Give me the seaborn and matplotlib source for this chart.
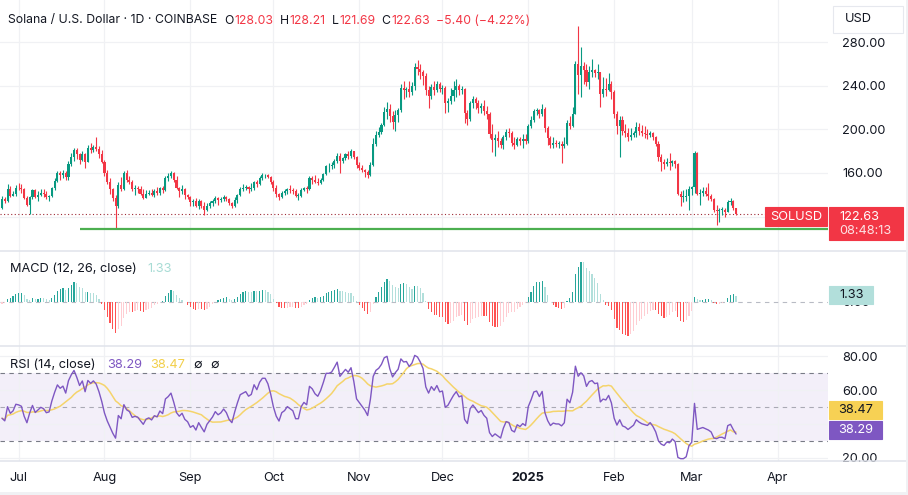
import seaborn as sns
import numpy as np
import pandas as pd
import matplotlib
matplotlib.use("Agg")
import matplotlib.pyplot as plt
from matplotlib.patches import Rectangle

# SOL/USD daily candles (Coinbase), 25 Jun 2024 .. 17 Mar 2025
start = "2024-06-25"
first_open = 128.0
close = [136.5, 134, 145, 139, 141, 146.5,
         146, 145, 137, 131, 138, 144, 138, 140, 142, 141, 138, 138.5, 146, 153, 160, 158, 160, 156, 168, 175, 181, 177, 172, 177, 170, 183, 181, 184, 182, 177, 170,
         160, 152, 145, 137, 130, 149, 145, 160, 154, 152, 145, 146, 145, 141, 137, 141, 142, 140, 143, 142, 146, 144, 155, 157, 160, 154, 146, 143, 145, 140, 138,
         133, 134, 130, 134, 130, 126, 130, 132, 134, 137, 135, 136, 138, 136, 132, 130, 135, 140, 145, 146, 147, 145, 146, 152, 150, 155, 158, 158, 156, 152,
         146, 141, 138, 142, 143, 145, 144, 143, 139, 139, 144, 146, 145, 155, 154, 152, 151, 154, 159, 166, 166, 167, 171, 176, 171, 174, 177, 176, 180, 175, 167,
         165, 163, 161, 158, 167, 187, 195, 198, 204, 216, 219, 212, 207, 213, 218, 238, 236, 237, 234, 240, 257, 256, 253, 249, 236, 231, 239, 236, 242, 237,
         238, 224, 226, 231, 236, 240, 236, 237, 215, 210, 224, 228, 224, 220, 222, 217, 214, 196, 190, 192, 189, 186, 193, 198, 197, 188, 186, 191, 189, 191, 189,
         203, 209, 217, 218, 214, 219, 201, 192, 186, 188, 187, 187, 185, 187, 206, 203, 214, 260, 250, 258, 255, 244, 253, 255, 252, 253, 233, 237, 236, 242, 234,
         214, 203, 209, 199, 197, 193, 195, 197, 202, 199, 197, 196, 195, 197, 193, 187, 175, 170, 168, 170, 169, 171, 168, 141, 138, 138, 139, 145,
         147, 178, 141, 142, 143, 141, 139, 136, 126, 125, 126, 126, 124, 133, 134, 128.03, 122.63]
high = [139, 138, 150, 148, 143, 149,
        151, 150, 146, 139, 139, 145, 145, 143, 145, 145, 143, 140, 147, 155, 162, 162, 163, 162, 171, 178, 183, 183, 178, 180, 178, 186, 188, 186, 193, 185, 181,
        172, 163, 155, 146, 140, 152, 156, 162, 163, 157, 154, 149, 148, 148, 145, 144, 144, 145, 145, 147, 147, 148, 157, 160, 162, 161, 157, 147, 149, 146, 141,
        139, 136, 137, 136, 135, 133, 132, 134, 136, 139, 138, 138, 140, 139, 137, 133, 138, 141, 147, 150, 149, 148, 151, 153, 154, 157, 160, 159, 159, 157,
        154, 149, 142, 143, 145, 146, 149, 146, 145, 142, 146, 147, 148, 157, 157, 158, 155, 155, 160, 167, 169, 170, 173, 178, 178, 175, 178, 180, 182, 180, 176,
        170, 167, 164, 163, 170, 192, 199, 202, 206, 221, 225, 223, 217, 218, 220, 242, 245, 239, 245, 244, 261, 264, 260, 255, 252, 240, 242, 245, 245, 244,
        241, 240, 229, 238, 245, 246, 242, 240, 238, 218, 226, 231, 230, 227, 224, 227, 222, 216, 205, 196, 199, 192, 195, 200, 201, 199, 193, 193, 193, 196, 196,
        205, 212, 219, 220, 219, 223, 221, 203, 194, 193, 190, 189, 189, 193, 209, 212, 221, 263, 295, 276, 262, 260, 258, 265, 256, 260, 253, 248, 247, 252, 245,
        236, 217, 212, 212, 205, 201, 201, 199, 207, 206, 204, 203, 200, 199, 198, 194, 189, 177, 173, 174, 178, 172, 172, 169, 143, 144, 145, 148,
        148, 180, 179, 145, 147, 147, 151, 141, 137, 131, 128, 129, 128, 135, 137, 135, 128.21]
low = [127, 132, 133, 138, 139, 139,
       144, 142, 136, 130, 122, 136, 137, 134, 139, 138, 136, 134, 138, 144, 152, 154, 155, 154, 154, 166, 171, 173, 168, 171, 165, 170, 178, 179, 180, 174, 169,
       157, 150, 141, 134, 109, 128, 143, 144, 152, 150, 143, 140, 142, 140, 136, 137, 140, 139, 138, 140, 140, 142, 143, 153, 155, 152, 145, 138, 141, 136, 136,
       130, 130, 129, 127, 128, 121, 125, 128, 130, 132, 131, 133, 134, 134, 131, 128, 129, 132, 139, 143, 144, 142, 143, 144, 147, 149, 154, 155, 155, 150,
       143, 138, 135, 137, 140, 141, 142, 141, 138, 135, 138, 143, 142, 144, 150, 151, 149, 150, 153, 158, 161, 164, 165, 169, 160, 169, 172, 173, 174, 173, 165,
       163, 161, 156, 155, 157, 166, 185, 193, 196, 203, 210, 207, 200, 199, 207, 216, 228, 230, 230, 232, 236, 250, 246, 241, 232, 220, 228, 232, 234, 234,
       233, 215, 216, 223, 226, 230, 232, 233, 206, 204, 208, 220, 219, 215, 215, 213, 210, 192, 179, 176, 184, 183, 182, 190, 193, 185, 182, 185, 186, 183, 187,
       188, 201, 207, 213, 211, 212, 198, 186, 183, 183, 184, 183, 169, 183, 186, 200, 202, 214, 233, 230, 242, 240, 237, 248, 248, 246, 221, 230, 231, 235, 228,
       211, 196, 175, 195, 193, 189, 190, 193, 193, 195, 194, 192, 191, 193, 190, 185, 171, 162, 164, 166, 163, 166, 165, 140, 130, 133, 134, 126,
       140, 142, 140, 131, 139, 139, 135, 134, 124, 112, 115, 121, 120, 124, 131, 126, 121.69]

month_days = ["2024-07-01", "2024-08-01", "2024-09-01", "2024-10-01", "2024-11-01",
              "2024-12-01", "2025-01-01", "2025-02-01", "2025-03-01", "2025-04-01"]
month_labels = ["Jul", "Aug", "Sep", "Oct", "Nov", "Dec", "2025", "Feb", "Mar", "Apr"]
price_ticks = [120, 160, 200, 240, 280]
rsi_ticks = [20, 40, 60, 80]
hidden_ticks = [120, 40]          # labels sit under the price tags
support_level = 108.5
support_from = "2024-07-23"

# values printed on the chart
title_text = "Solana / U.S. Dollar \u00b7 1D \u00b7 COINBASE"
ohlc_keys = ["O", "H", "L", "C"]
ohlc_text = ["128.03", "128.21", "121.69", "122.63"]
change_text = "\u22125.40 (\u22124.22%)"
macd_last = "1.33"
rsi_last, rsi_ma_last = "38.29", "38.47"
countdown = "08:48:13"

# indicator state carried in from before the visible window
ema12, ema26, sig = 137.0, 143.0, -5.0
avg_gain, avg_loss = 1.8, 3.2

UP, DOWN = "#089981", "#F23645"
TXT, GRID, SEP = "#131722", "#F0F1F4", "#E0E3EB"

sns.set_theme(style="white")
plt.rcParams["font.family"] = ["Inter", "DejaVu Sans"]

n = len(close)
idx = np.arange(n)
opens = np.array([first_open] + close[:-1])
closes = np.array(close)
highs = np.maximum(np.array(high), np.maximum(opens, closes))
lows = np.minimum(np.array(low), np.minimum(opens, closes))
t0 = pd.Timestamp(start)
month_pos = [(pd.Timestamp(d) - t0).days for d in month_days]

# MACD (12, 26, 9) and RSI (14) from the closes
hist, rsi, hist_cols = [], [], []
prev_close = first_open
prev_h = (ema12 - ema26) - sig
for c in close:
    ema12 += (c - ema12) * 2 / 13
    ema26 += (c - ema26) * 2 / 27
    m = ema12 - ema26
    sig += (m - sig) * 2 / 10
    h = m - sig
    if h >= 0:
        hist_cols.append("#26A69A" if h > prev_h else "#B2DFDB")
    else:
        hist_cols.append("#FFCDD2" if h > prev_h else "#FF5252")
    hist.append(h)
    prev_h = h
    d = c - prev_close
    avg_gain = (avg_gain * 13 + max(d, 0)) / 14
    avg_loss = (avg_loss * 13 + max(-d, 0)) / 14
    rsi.append(100 - 100 / (1 + avg_gain / avg_loss))
    prev_close = c
hist = np.array(hist)
rsi_df = pd.DataFrame({"i": idx, "rsi": rsi})
rsi_df["ma"] = rsi_df["rsi"].rolling(14, min_periods=1).mean()

W, H = 908, 495
RIGHT = 828
fig = plt.figure(figsize=(W / 100, H / 100), dpi=100)
fig.patch.set_facecolor("white")


def fx(x):
    return x / W


def fy(y):
    return 1 - y / H


def to_i(px):
    return (px - 2) / 2.77


def tick_text(v, fmt="{:.2f}"):
    return "" if v in hidden_ticks else fmt.format(v)


def pane(top, bottom):
    ax = fig.add_axes([0, fy(bottom), RIGHT / W, (bottom - top) / H])
    ax.set_facecolor("white")
    ax.set_xlim(to_i(0), to_i(RIGHT))
    for sp in ax.spines.values():
        sp.set_visible(False)
    ax.set_xticks(month_pos)
    ax.grid(True, color=GRID, lw=0.9)
    ax.set_axisbelow(True)
    ax.yaxis.tick_right()
    ax.tick_params(length=0, labelsize=9.2, labelcolor=TXT, pad=10)
    ax.tick_params(axis="x", labelbottom=False)
    return ax


# ---- price pane
ax_p = pane(0, 251)
ax_p.set_ylim(88.3, 319)
ax_p.set_yticks(price_ticks)
ax_p.set_yticklabels([tick_text(v) for v in price_ticks])
cols = np.where(closes >= opens, UP, DOWN)
ax_p.vlines(idx, lows, highs, colors=cols, lw=0.8, zorder=3)
body = np.maximum(np.abs(closes - opens), 0.5)
ax_p.bar(idx, body, bottom=np.minimum(opens, closes), width=0.75, color=cols, lw=0, zorder=4)
sup_i = (pd.Timestamp(support_from) - t0).days
ax_p.hlines(support_level, sup_i, to_i(RIGHT), colors="#4CAF50", lw=1.6, zorder=5)
ax_p.hlines(closes[-1], to_i(0), to_i(765), colors="#9E2A36", lw=0.8, linestyles=(0, (1, 2.2)), zorder=2)

# ---- MACD pane
ax_m = pane(251, 346)
ax_m.grid(False, axis="y")
u = max(hist.max() / 40, -hist.min() / 36)
ax_m.set_ylim(-44 * u, 51 * u)
ax_m.set_yticks([0])
ax_m.set_yticklabels(["0.00"])
ax_m.axhline(0, color="#B8BBC4", lw=0.8, ls=(0, (4, 4)), zorder=1)
ax_m.bar(idx, hist, width=0.42, color=hist_cols, lw=0, zorder=3)

# ---- RSI pane
ax_r = pane(346, 461)
ax_r.set_ylim(18.2, 86.0)
ax_r.set_yticks(rsi_ticks)
ax_r.set_yticklabels([tick_text(v) for v in rsi_ticks])
ax_r.axhspan(30, 70, color="#7E57C2", alpha=0.09, lw=0, zorder=0)
for lvl, a in [(70, 1), (50, 0.6), (30, 1)]:
    ax_r.axhline(lvl, color="#787B86", alpha=a, lw=0.8, ls=(0, (4, 4)), zorder=1)
sns.lineplot(data=rsi_df, x="i", y="ma", ax=ax_r, color="#F5D46B", lw=1.1, zorder=3)
sns.lineplot(data=rsi_df, x="i", y="rsi", ax=ax_r, color="#7E57C2", lw=1.0, zorder=4)
ax_r.set_xlabel("")
ax_r.set_ylabel("")
ax_r.set_xlim(to_i(0), to_i(RIGHT))
ax_r.tick_params(axis="x", labelbottom=True, pad=8)
ax_r.set_xticklabels(month_labels)
for lab in ax_r.get_xticklabels():
    if lab.get_text() == "2025":
        lab.set_fontweight("bold")

# ---- separators, frame and price tags
for y in (251, 346, 461):
    fig.add_artist(plt.Line2D([0, 1], [fy(y), fy(y)], color=SEP, lw=1.1, transform=fig.transFigure))
fig.add_artist(Rectangle((fx(829), fy(492)), 78 / W, 30 / H, transform=fig.transFigure,
                         fc="white", ec="none", zorder=4))
fig.add_artist(Rectangle((0, 0), 1, 3 / H, transform=fig.transFigure, fc="#F0F1F4", ec="none", zorder=4))
fig.add_artist(Rectangle((fx(906), 0), 2 / W, 1, transform=fig.transFigure, fc="#F0F1F4", ec="none", zorder=4))


def tag(x0, y0, x1, y1, fc, ec=None):
    fig.add_artist(Rectangle((fx(x0), fy(y1)), (x1 - x0) / W, (y1 - y0) / H,
                             transform=fig.transFigure, fc=fc, ec=ec or fc, lw=0.8, zorder=5))


def label(x, y, s, color=TXT, size=9.2, ha="left", **kw):
    return fig.text(fx(x), fy(y), s, color=color, fontsize=size, ha=ha, va="center", zorder=6, **kw)


tag(833, 6, 903, 33, "white", "#E6E8EE")
label(845, 19.5, "USD")
tag(765, 207, 827, 226, DOWN)
label(796, 216.5, "SOLUSD", "white", ha="center")
tag(829, 207, 903, 240, DOWN)
label(839, 216.5, ohlc_text[3], "white")
label(839, 231, countdown, "#FDE2E4")
tag(829, 286, 873, 304, "#B2DFDB")
label(839, 295, macd_last)
tag(829, 401, 882, 419, "#F7D154")
label(838, 410, rsi_ma_last)
tag(829, 421, 882, 439, "#7E57C2")
label(838, 430, rsi_last, "white")

# header, laid out left to right
renderer = fig.canvas.get_renderer()
HS = 8.8
parts = [(title_text, TXT, 7)]
for k, v in zip(ohlc_keys, ohlc_text):
    parts += [(k, TXT, 1), (v, DOWN, 6)]
parts += [(change_text, DOWN, 0)]
x = 8
for s, col, gap in parts:
    t = label(x, 20.5, s, col, size=HS)
    x += t.get_window_extent(renderer).width + gap

label(10, 269, "MACD (12, 26, close)")
label(147, 269, macd_last, "#A8DCD5")
label(10, 365, "RSI (14, close)")
label(107, 365, rsi_last, "#7E57C2")
label(150, 365, rsi_ma_last, "#F2CF4A")
label(193, 365, "\u2205")
label(210, 365, "\u2205")

fig.savefig("out.png", dpi=100, facecolor="white")
